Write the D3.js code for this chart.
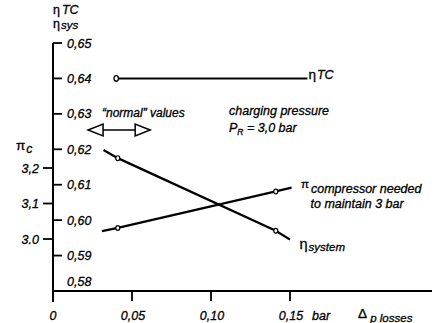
<!DOCTYPE html>
<html><head><meta charset="utf-8">
<script src="https://cdn.jsdelivr.net/npm/d3@7"></script>
<style>
body{margin:0;background:#fff;}
text{font-family:"Liberation Sans",Arial,sans-serif;font-style:italic;fill:#000;stroke:#000;stroke-width:0.3;}
</style></head>
<body><svg id="c" width="435" height="323"></svg>
<script>
// data
const etaTicks = [0.58,0.59,0.60,0.61,0.62,0.63,0.64,0.65];
const etaTickLabels = ["0,58","0,59","0,60","0,61","0,62","0,63","0,64","0,65"];
const piTicks = [3.0,3.1,3.2];
const piTickLabels = ["3.0","3,1","3,2"];
const xTicks = [0,0.05,0.10,0.15];
const xTickLabels = ["0","0,05","0,10","0,15"];
const etaTC_x = [0.04,0.161];
const etaTC_y = [0.64,0.64];
const etaSys_x = [0.032,0.041,0.141,0.15];
const etaSys_y = [0.6198,0.6175,0.597,0.5945];
const piC_x = [0.031,0.041,0.141,0.151];
const piC_y = [3.022,3.031,3.134,3.145];
const markerIdxTC = [0];
const markerIdx = [1,2];

const svg = d3.select("#c");
const x = d3.scaleLinear().domain([0,0.15]).range([53,290]);
const yEta = d3.scaleLinear().domain([0.58,0.65]).range([291,43]);
const yPi = d3.scaleLinear().domain([3.0,3.2]).range([239,168]);
const FS = 12.5;

// axes lines
svg.append("line").attr("x1",x(0)).attr("x2",x(0)).attr("y1",yEta(0.65)).attr("y2",302)
  .attr("stroke","#000").attr("stroke-width",2);
svg.append("line").attr("x1",x(0)).attr("x2",432).attr("y1",yEta(0.58)).attr("y2",yEta(0.58))
  .attr("stroke","#000").attr("stroke-width",2);

// eta ticks (right side)
etaTicks.forEach((t,i)=>{
  if(i>0) svg.append("line").attr("x1",x(0)).attr("x2",x(0)+9).attr("y1",yEta(t)).attr("y2",yEta(t))
    .attr("stroke","#000").attr("stroke-width",1.8);
  svg.append("text").attr("x",x(0)+14).attr("y",i===0? yEta(t)-5 : yEta(t)+4.5)
    .attr("font-size",FS).text(etaTickLabels[i]);
});
// pi ticks (left)
piTicks.forEach((t,i)=>{
  svg.append("line").attr("x1",x(0)-10).attr("x2",x(0)).attr("y1",yPi(t)).attr("y2",yPi(t))
    .attr("stroke","#000").attr("stroke-width",1.8);
  svg.append("text").attr("x",x(0)-14).attr("y",yPi(t)+4.5).attr("text-anchor","end")
    .attr("font-size",FS).text(piTickLabels[i]);
});
// x ticks
xTicks.forEach((t,i)=>{
  if(i>0) svg.append("line").attr("x1",x(t)).attr("x2",x(t)).attr("y1",yEta(0.58)).attr("y2",yEta(0.58)+10)
    .attr("stroke","#000").attr("stroke-width",1.8);
  svg.append("text").attr("x",x(t)+(i===0?0:1)).attr("y",320).attr("text-anchor","middle")
    .attr("font-size",FS).text(xTickLabels[i]);
});
svg.append("text").attr("x",312).attr("y",320).attr("font-size",FS).text("bar");
const dl = svg.append("text").attr("x",358).attr("y",318).attr("font-size",FS+1);
dl.append("tspan").attr("font-style","normal").text("Δ");
dl.append("tspan").attr("font-size",FS-1).attr("dy",4).text(" p losses");

// axis titles
const t1 = svg.append("text").attr("x",53).attr("y",14).attr("font-size",FS);
t1.append("tspan").attr("font-style","normal").text("η");
t1.append("tspan").attr("dx",2).text("TC");
const t2 = svg.append("text").attr("x",53).attr("y",28).attr("font-size",FS);
t2.append("tspan").attr("font-style","normal").text("η");
t2.append("tspan").attr("dx",1).attr("font-size",FS-1).attr("dy",1).text("sys");
const t3 = svg.append("text").attr("x",16).attr("y",150).attr("font-size",FS);
t3.append("tspan").attr("font-style","normal").attr("font-size",FS+1).text("π");
t3.append("tspan").attr("dx",1).attr("dy",3).text("c");

// lines
const lineE = d3.line().x(d=>x(d[0])).y(d=>yEta(d[1]));
const lineP = d3.line().x(d=>x(d[0])).y(d=>yPi(d[1]));
const dTC = etaTC_x.map((v,i)=>[v,etaTC_y[i]]);
const dSys = etaSys_x.map((v,i)=>[v,etaSys_y[i]]);
const dPi = piC_x.map((v,i)=>[v,piC_y[i]]);
svg.append("path").attr("d",lineE(dTC)).attr("fill","none").attr("stroke","#000").attr("stroke-width",2);
svg.append("path").attr("d",lineE(dSys)).attr("fill","none").attr("stroke","#000").attr("stroke-width",2.3);
svg.append("path").attr("d",lineP(dPi)).attr("fill","none").attr("stroke","#000").attr("stroke-width",2.3);
// markers
markerIdxTC.forEach(i=>svg.append("ellipse").attr("cx",x(dTC[i][0])).attr("cy",yEta(dTC[i][1])).attr("rx",2.2).attr("ry",2.8)
  .attr("fill","#fff").attr("stroke","#000").attr("stroke-width",1.3));
markerIdx.forEach(i=>{
  svg.append("ellipse").attr("cx",x(dSys[i][0])).attr("cy",yEta(dSys[i][1])).attr("rx",2).attr("ry",2.4)
    .attr("fill","#fff").attr("stroke","#000").attr("stroke-width",1.2);
  svg.append("ellipse").attr("cx",x(dPi[i][0])).attr("cy",yPi(dPi[i][1])).attr("rx",2).attr("ry",2.4)
    .attr("fill","#fff").attr("stroke","#000").attr("stroke-width",1.2);
});

// series labels
const lTC = svg.append("text").attr("x",x(0.161)+1).attr("y",yEta(0.64)+1).attr("font-size",FS);
lTC.append("tspan").attr("font-style","normal").attr("font-size",FS+1).text("η");
lTC.append("tspan").attr("dx",1).text("TC");
const lS = svg.append("text").attr("x",x(0.156)).attr("y",yEta(0.5945)+9).attr("font-size",FS);
lS.append("tspan").attr("font-style","normal").attr("font-size",FS+2).text("η");
lS.append("tspan").attr("dx",1).attr("dy",2).attr("font-size",FS-1).text("system");
const lP = svg.append("text").attr("x",x(0.157)).attr("y",yPi(3.145)+3).attr("font-size",FS);
lP.append("tspan").attr("font-style","normal").attr("font-size",FS-1).attr("dy",-3).text("π");
lP.append("tspan").attr("dx",2).attr("dy",5).text("compressor needed");
svg.append("text").attr("x",x(0.163)).attr("y",yPi(3.145)+20).attr("font-size",FS).text("to maintain 3 bar");

// annotations
svg.append("text").attr("x",102).attr("y",117).attr("font-size",FS-0.5).text("\u201Cnormal\u201D values");
svg.append("text").attr("x",229).attr("y",115).attr("font-size",FS).text("charging pressure");
const pr = svg.append("text").attr("x",229).attr("y",132).attr("font-size",FS);
pr.append("tspan").text("P");
pr.append("tspan").attr("font-size",FS-4).attr("dy",3).text("R");
pr.append("tspan").attr("dy",-3).text(" = 3,0 bar");

// double arrow
const ay = 130, ax1 = x(0.0222), ax2 = x(0.0615);
svg.append("line").attr("x1",ax1+15).attr("x2",ax2-15).attr("y1",ay).attr("y2",ay).attr("stroke","#000").attr("stroke-width",1.5);
svg.append("path").attr("d",`M${ax1},${ay}L${ax1+15},${ay-6}L${ax1+15},${ay+6}Z`).attr("fill","#fff").attr("stroke","#000").attr("stroke-width",1.5);
svg.append("path").attr("d",`M${ax2},${ay}L${ax2-15},${ay-6}L${ax2-15},${ay+6}Z`).attr("fill","#fff").attr("stroke","#000").attr("stroke-width",1.5);
</script></body></html>
